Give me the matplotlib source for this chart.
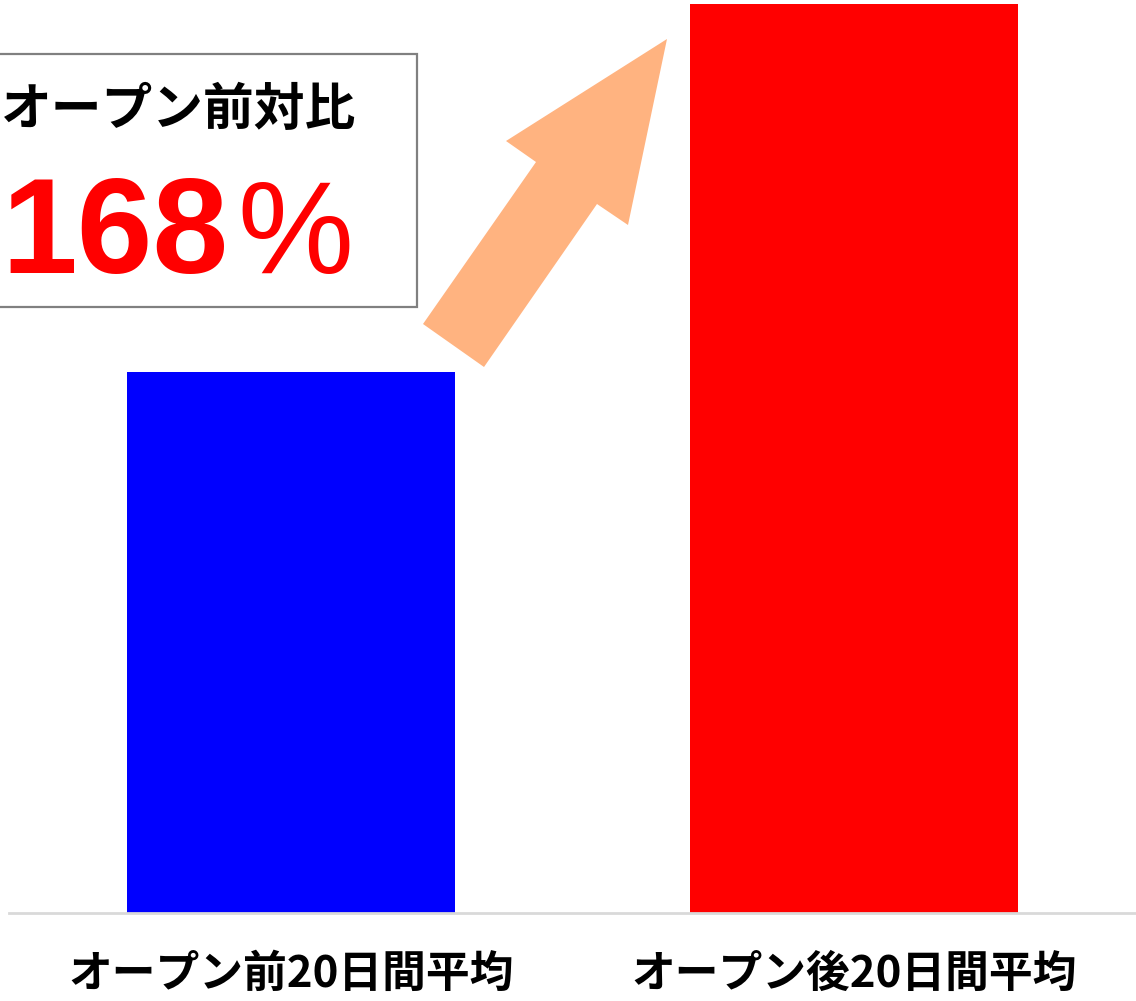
import matplotlib
matplotlib.use("Agg")
import matplotlib.pyplot as plt
from matplotlib.patches import Rectangle, Polygon

plt.rcParams['font.family'] = ['Noto Sans CJK JP', 'DejaVu Sans']

categories = ["オープン前20日間平均", "オープン後20日間平均"]
values = [100, 168]
colors = ["#0000FF", "#FF0000"]
box_title = "オープン前対比"
box_number = "168"
box_unit = "%"

W, H = 1136, 1001
fig = plt.figure(figsize=(W / 100, H / 100), dpi=100)

ax = fig.add_axes([9 / W, 88 / H, 1127 / W, 913 / H])
x = range(len(categories))
ax.bar(x, values, width=0.582, color=colors, zorder=2)
ax.set_xlim(-0.5, 1.5)
ax.set_ylim(0, 168.74)
ax.set_xticks(list(x))
ax.set_xticklabels(categories, fontsize=31.5, fontweight='bold', color='black')
ax.tick_params(axis='x', length=0, pad=28)
ax.set_yticks([])
for s in ['top', 'right', 'left']:
    ax.spines[s].set_visible(False)
ax.spines['bottom'].set_color('#d9d9d9')
ax.spines['bottom'].set_linewidth(2)

# annotation box
fig.patches.append(Rectangle((-0.01, 1 - 307 / H), 0.01 + 417 / W, (307 - 54) / H,
                             transform=fig.transFigure, facecolor='white',
                             edgecolor='#808080', linewidth=1.6, zorder=3))
fig.text(1 / W, 1 - 110 / H, box_title, fontsize=36.5, fontweight='bold',
         color='black', ha='left', va='center', zorder=4)
fig.text(1 / W, 1 - 273 / H, box_number, fontsize=98, fontweight='bold',
         family=['Liberation Sans', 'DejaVu Sans'],
         color='#FF0000', ha='left', va='baseline', zorder=4)
fig.text(237 / W, 1 - 273 / H, box_unit, fontsize=94, fontweight='normal',
         family=['Liberation Sans', 'DejaVu Sans'],
         color='#FF0000', ha='left', va='baseline', zorder=4)

# arrow
pts = [(423, 324), (536, 162), (506, 141), (667, 39), (628, 225), (597, 204), (484, 367)]
fig.patches.append(Polygon([(px / W, 1 - py / H) for px, py in pts], closed=True,
                           transform=fig.transFigure, facecolor='#FFB380',
                           edgecolor='none', zorder=3))

fig.savefig("out.png", dpi=100)
